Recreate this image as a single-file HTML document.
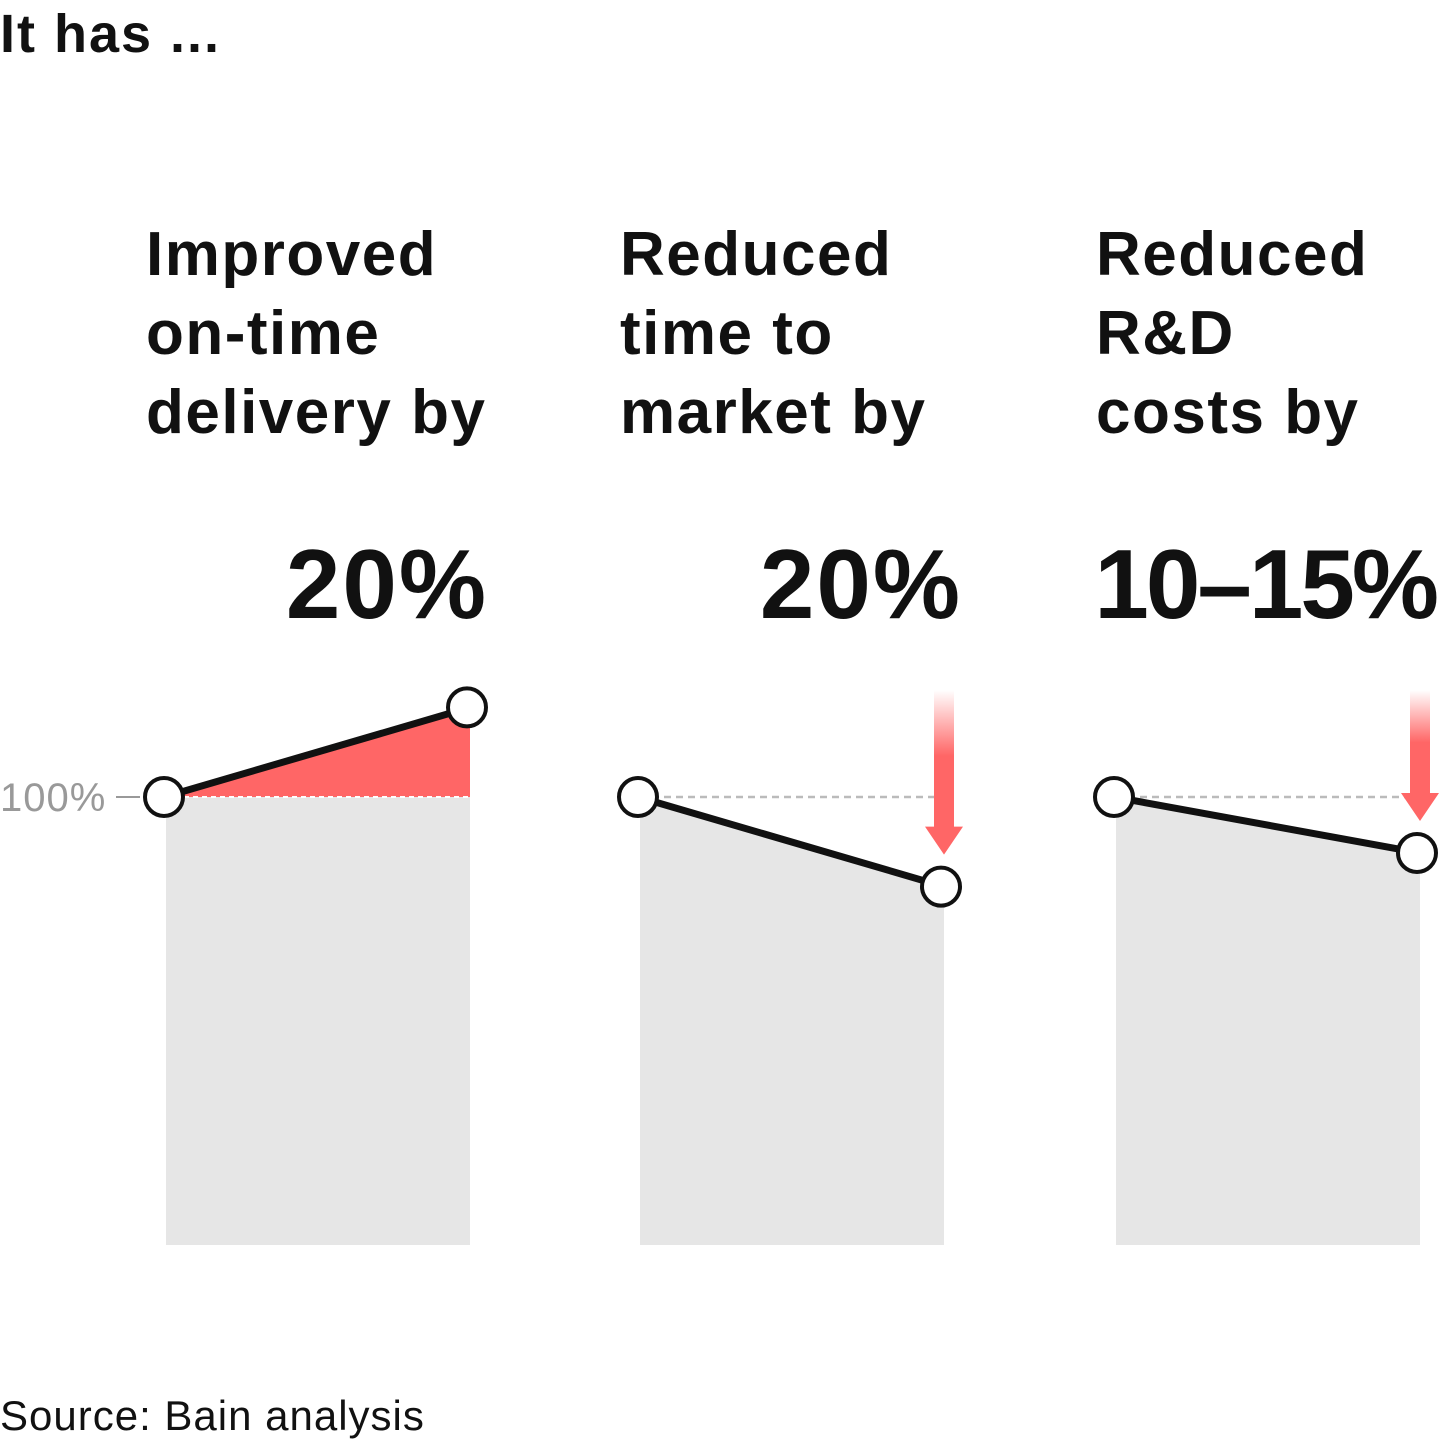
<!DOCTYPE html>
<html><head><meta charset="utf-8"><style>
html,body{margin:0;padding:0;background:#fff;}
body{width:1440px;height:1440px;overflow:hidden;font-family:"Liberation Sans",sans-serif;}
</style></head><body>
<svg id="chart" width="1440" height="1440" xmlns="http://www.w3.org/2000/svg">
<defs>
<linearGradient id="fade" x1="0" y1="0" x2="0" y2="1">
<stop offset="0" stop-color="#ff6666" stop-opacity="0"/>
<stop offset="0.4" stop-color="#ff6666" stop-opacity="1"/>
</linearGradient>
</defs>
<text x="0" y="52" font-size="54" font-weight="bold" fill="#111" letter-spacing="2">It has ...</text>
<text x="0" y="1430" font-size="42" fill="#111" letter-spacing="1">Source: Bain analysis</text>
<g id="panels"></g>
</svg>
<script>
const titles = [["Improved","on-time","delivery by"],["Reduced","time to","market by"],["Reduced","R&D","costs by"]];
const bigLabels = ["20%","20%","10–15%"];
const startValues = [100,100,100];
const endValues = [120,80,87.5];
const showArrow = [false,true,true];

const NS="http://www.w3.org/2000/svg";
const g=document.getElementById('panels');
const panelX=[166,640,1116], panelW=304, baseY=1245, unit=4.48;
const y=v=>baseY-v*unit;
function mk(tag,attrs,parent){const e=document.createElementNS(NS,tag);for(const k in attrs)e.setAttribute(k,attrs[k]);(parent||g).appendChild(e);return e;}

const lab=mk('text',{x:0,y:y(100)+14,'font-size':40,fill:'#999','letter-spacing':1});
lab.textContent='100%';


const tick=mk('line',{x1:116,x2:140,y1:y(100),y2:y(100),stroke:'#999','stroke-width':2});



for(let i=0;i<3;i++){
  const x0=panelX[i], x1=x0+panelW;
  const t=mk('text',{x:x0-20,y:275,'font-size':62,'font-weight':'bold',fill:'#111','letter-spacing':1.5});
  
  
  titles[i].forEach((s,j)=>{const ts=mk('tspan',{x:x0-20,dy:j?79:0},t);ts.textContent=s;});
  const b=mk('text',{x:x1+(i==2?16:18),y:618,'font-size':98,'font-weight':'bold',fill:'#111','text-anchor':'end','letter-spacing':(i==2?'-3':'2')});
  b.textContent=bigLabels[i];
  
  
  const ys=y(startValues[i]), ye=y(endValues[i]), yb=y(100);
  const fill=mk('polygon',{points:`${x0},${Math.max(ys,yb)} ${x1},${Math.max(ye,yb)} ${x1},${baseY} ${x0},${baseY}`,fill:'#e6e6e6'});
  
  
  if(endValues[i]>100){
    const inc=mk('polygon',{points:`${x0},${ys} ${x1},${ye} ${x1},${yb}`,fill:'#ff6666'});
    
    
    const d=mk('line',{x1:x0,x2:x1,y1:yb,y2:yb,stroke:'#fff','stroke-width':2,'stroke-dasharray':'5 4'});
    
    
  } else {
    const d=mk('line',{x1:x0,x2:x1,y1:yb,y2:yb,stroke:'#bbb','stroke-width':2.5,'stroke-dasharray':'7 5'});
    
    
  }
  if(showArrow[i]){
    const ax=x1;
    const tip=ye-32;
    const ar=mk('path',{d:`M${ax-10},690 L${ax+10},690 L${ax+10},${tip-28} L${ax+19},${tip-28} L${ax},${tip} L${ax-19},${tip-28} L${ax-10},${tip-28} Z`,fill:'url(#fade)'});
    
    
  }
  const ln=mk('line',{x1:x0-2,y1:ys,x2:x1,y2:ye,stroke:'#111','stroke-width':7});
  
  
  const c1=mk('circle',{cx:x0-2,cy:ys,r:19,fill:'#fff',stroke:'#111','stroke-width':4});
  
  
  const c2=mk('circle',{cx:x1-3,cy:ye,r:19,fill:'#fff',stroke:'#111','stroke-width':4});
  
  
}
</script>
</body></html>
